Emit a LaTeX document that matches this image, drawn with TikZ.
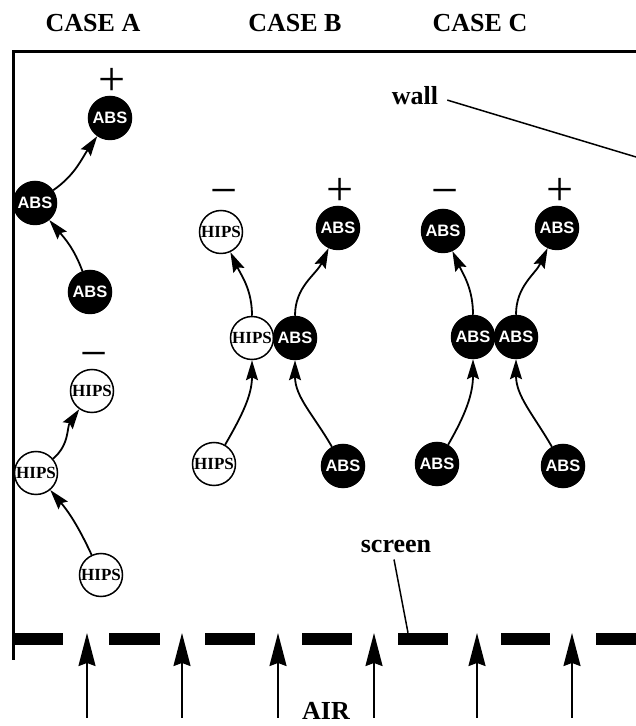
\documentclass[tikz,border=0pt]{standalone}
\usepackage{fontspec}
\setmainfont{Liberation Serif}
\newfontfamily\absfamily{Liberation Sans}
\usetikzlibrary{arrows.meta}

\tikzset{
  particle/.style={circle, minimum size=43pt, inner sep=0pt, line width=1.5pt, draw=black},
  absball/.style={particle, fill=black, text=white,
    font=\absfamily\bfseries\fontsize{16.5}{16.5}\selectfont},
  hipsball/.style={particle, fill=white, text=black,
    font=\bfseries\fontsize{17}{17}\selectfont},
  trajectory/.style={line width=1.8pt, -{Stealth[length=20pt,width=12pt,inset=3pt]}},
  charge/.style={inner sep=0pt, font=\fontsize{48}{48}\selectfont},
  heading/.style={inner sep=0pt, anchor=base, font=\bfseries\fontsize{26}{26}\selectfont},
  pointer/.style={line width=1.5pt},
  frameline/.style={line width=3pt},
  screendash/.style={rectangle, fill=black, minimum height=12pt, inner sep=0pt},
  airflow/.style={line width=2pt, -{Stealth[length=33pt,width=17pt,inset=3pt]}},
}

\begin{document}
\begin{tikzpicture}[x=1pt, y=1pt]
  % canvas
  \fill[white] (0,0) rectangle (636,726);
  \useasboundingbox (0,0) rectangle (636,726);

  % column headings
  \node[heading] (caseA) at (93,694) {CASE A};
  \node[heading] (caseB) at (295,694) {CASE B};
  \node[heading] (caseC) at (480,694) {CASE C};

  % chamber outline (top and left walls)
  \draw[frameline] (636,674) -- (13,674) -- (13,66);

  % wall label
  \node[heading] (wall) at (415,621) {wall};
  \coordinate (wallend) at (636,569);
  \draw[pointer] ([xshift=9pt,yshift=-4pt]wall.east) -- (wallend);

  % ---------- case A ----------
  \node[charge] (plusA) at (112,644) {+};
  \node[absball] (aTop) at (110,608) {ABS};
  \node[absball] (aMid) at (35,523) {ABS};
  \node[absball] (aLow) at (90,434) {ABS};
  \draw[trajectory] (aLow) to[out=110,in=-50] (aMid);
  \draw[trajectory] (aMid) to[out=35,in=-125] (aTop);

  \node[charge] (minusA) at (94,365) {−};
  \node[hipsball] (hTop) at (92,335) {HIPS};
  \node[hipsball] (hMid) at (36,253) {HIPS};
  \node[hipsball] (hLow) at (101,151) {HIPS};
  \draw[trajectory] (hLow) to[out=115,in=-50] (hMid);
  \draw[trajectory] (hMid) to[out=40,in=-125] (hTop);

  % ---------- case B ----------
  \node[charge] (minusB) at (224,528) {−};
  \node[charge] (plusB) at (340,534) {+};
  \node[hipsball] (bhTop) at (221,494) {HIPS};
  \node[absball] (baTop) at (338,498) {ABS};
  \node[hipsball] (bhMid) at (252,388) {HIPS};
  \node[absball] (baMid) at (295,388) {ABS};
  \node[hipsball] (bhLow) at (214,262) {HIPS};
  \node[absball] (baLow) at (343,260) {ABS};
  \draw[trajectory] (bhLow) to[out=60,in=-90] (bhMid);
  \draw[trajectory] (bhMid) to[out=90,in=-65] (bhTop);
  \draw[trajectory] (baLow) to[out=120,in=-90] (baMid);
  \draw[trajectory] (baMid) to[out=90,in=-115] (baTop);

  % ---------- case C ----------
  \node[charge] (minusC) at (445,528) {−};
  \node[charge] (plusC) at (560,534) {+};
  \node[absball] (clTop) at (443,495) {ABS};
  \node[absball] (crTop) at (557,498) {ABS};
  \node[absball] (clMid) at (473,389) {ABS};
  \node[absball] (crMid) at (516,389) {ABS};
  \node[absball] (clLow) at (437,262) {ABS};
  \node[absball] (crLow) at (563,260) {ABS};
  \draw[trajectory] (clLow) to[out=60,in=-90] (clMid);
  \draw[trajectory] (clMid) to[out=90,in=-65] (clTop);
  \draw[trajectory] (crLow) to[out=120,in=-90] (crMid);
  \draw[trajectory] (crMid) to[out=90,in=-115] (crTop);

  % ---------- perforated screen ----------
  \foreach \a/\b [count=\i] in {13/63,109/160,205/255,302/352,398/448,501/550,596/636}
    \node[screendash, minimum width={(\b-\a)*1pt}] (dash\i) at ({(\a+\b)/2},87) {};

  \node[heading] (screen) at (396,173) {screen};
  \draw[pointer] ([xshift=-2pt,yshift=-6pt]screen.south) -- ([xshift=-15pt]dash5.north);

  % ---------- incoming air ----------
  \foreach \x [count=\i] in {87,182,278,374,477,572} {
    \coordinate (airlow\i) at (\x,8);
    \coordinate (airtip\i) at (\x,93);
    \draw[airflow] (airlow\i) -- (airtip\i);
  }
  \node[heading] (air) at (326,6) {AIR};
\end{tikzpicture}
\end{document}
